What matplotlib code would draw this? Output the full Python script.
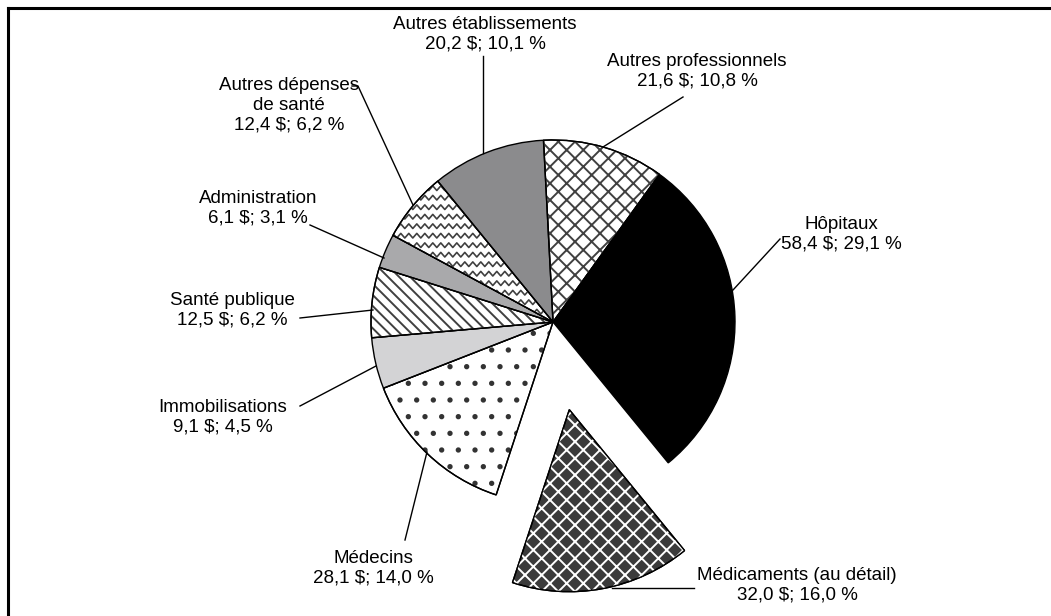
import matplotlib
matplotlib.use('Agg')
import matplotlib.pyplot as plt
import numpy as np
from matplotlib.patches import Wedge
from matplotlib.lines import Line2D

plt.rcParams['font.family'] = ['Liberation Sans', 'DejaVu Sans']
plt.rcParams['hatch.linewidth'] = 1.4

categories = ['Autres professionnels', 'Hôpitaux', 'Médicaments (au détail)', 'Médecins',
              'Immobilisations', 'Santé publique', 'Administration',
              'Autres dépenses\nde santé', 'Autres établissements']
values = [21.6, 58.4, 32.0, 28.1, 9.1, 12.5, 6.1, 12.4, 20.2]
percents = [10.8, 29.1, 16.0, 14.0, 4.5, 6.2, 3.1, 6.2, 10.1]

faces = ['white', 'black', '#3b3b3b', 'white', '#d3d3d5', 'white', '#a9a9ab', 'white', '#8b8b8d']
hatches = ['xx', None, 'xx', '.', None, '\\\\\\', None, None, None]
hatch_cols = ['#404040', None, 'white', '#333333', None, '#404040', None, None, None]
explode = [0, 0, 0.49, 0, 0, 0, 0, 0, 0]

# pixel -> data helper (pie radius = 1)
cx, cy, R = 553, 322, 182.0
def px(x, y):
    return ((x - cx) / R, (cy - y) / R)

fig = plt.figure(figsize=(10.51, 6.16), dpi=100)
ax = fig.add_axes([0, 0, 1, 1])

wedges, _ = ax.pie(values, startangle=93, counterclock=False, explode=explode,
                   colors=faces, wedgeprops=dict(edgecolor='black', linewidth=1.0))

for w, h, hc in zip(wedges, hatches, hatch_cols):
    if h is None:
        continue
    hp = Wedge(w.center, w.r, w.theta1, w.theta2, facecolor='none', edgecolor=hc,
               linewidth=0, hatch=h, zorder=w.get_zorder() + 0.1)
    ax.add_patch(hp)
    ol = Wedge(w.center, w.r, w.theta1, w.theta2, fill=False, edgecolor='black',
               linewidth=1.0, zorder=w.get_zorder() + 0.2)
    ax.add_patch(ol)

# wavy pattern for "Autres dépenses de santé"
wv = wedges[7]
step = 9.5 / R
amp = 2.3 / R
dx = 4.0 / R
xs = np.arange(-1.1, 0.1, dx)
for k, y0 in enumerate(np.arange(-0.1, 1.1, step)):
    ys = y0 + amp * np.where(np.arange(len(xs)) % 2 == 0, 1, -1)
    ln, = ax.plot(xs, ys, color='#404040', lw=1.2, zorder=wv.get_zorder() + 0.1)
    ln.set_clip_path(wv)
ol = Wedge(wv.center, wv.r, wv.theta1, wv.theta2, fill=False, edgecolor='black',
           linewidth=1.0, zorder=wv.get_zorder() + 0.2)
ax.add_patch(ol)

# labels: (text centre, leader line points) in pixels
label_pos = [(697, 71), (841, 234), (797, 585), (373, 568), (223, 417),
             (232, 310), (258, 208), (289, 105), (485, 34)]
leaders = [[(603, 147), (683, 97)],
           [(733, 290), (780, 239)],
           [(612, 588), (694, 588)],
           [(427, 452), (405, 540)],
           [(376, 366), (300, 406)],
           [(373, 310), (300, 318)],
           [(384, 258), (310, 225)],
           [(413, 205), (358, 86), (352, 86)],
           [(483, 153), (483, 56)]]

for name, v, p, pos, pts in zip(categories, values, percents, label_pos, leaders):
    txt = f"{name}\n{v:.1f} $; {p:.1f} %".replace('.', ',')
    tx, ty = px(*pos)
    ax.text(tx, ty, txt, ha='center', va='center', multialignment='center',
            fontsize=13.5, linespacing=1.2, color='black')
    lx = [px(a, b)[0] for a, b in pts]
    ly = [px(a, b)[1] for a, b in pts]
    ax.plot(lx, ly, color='black', lw=1.0, zorder=10)

ax.set_aspect('auto')
ax.set_xlim(px(0, 0)[0], px(1051, 0)[0])
ax.set_ylim(px(0, 616)[1], px(0, 0)[1])
ax.axis('off')

# frame (left and top edges visible)
fig.add_artist(Line2D([7.5 / 1051, 7.5 / 1051], [0, 1 - 7.5 / 616], color='black', lw=2.2,
                      transform=fig.transFigure))
fig.add_artist(Line2D([7.5 / 1051, 1], [1 - 7.5 / 616, 1 - 7.5 / 616], color='black', lw=2.2,
                      transform=fig.transFigure))

fig.savefig('out.png', dpi=100)
